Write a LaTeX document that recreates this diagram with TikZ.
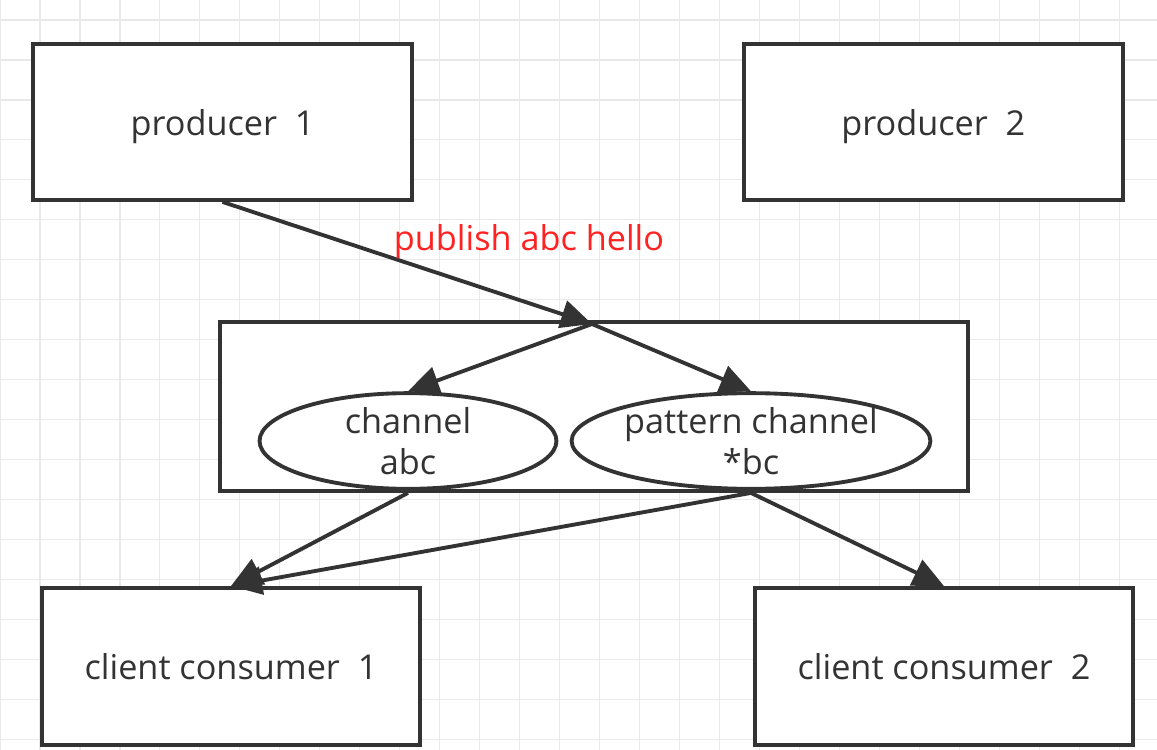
\documentclass[tikz,border=0pt]{standalone}
\usepackage{fontspec}
\setmainfont{Open Sans}
\usetikzlibrary{positioning, arrows.meta, shapes.geometric}
\definecolor{ink}{HTML}{333333}
\definecolor{gridgray}{HTML}{E9E9E9}
\definecolor{msgred}{HTML}{FF2222}

\begin{document}
\begin{tikzpicture}[x=0.02cm, y=-0.02cm, font=\fontsize{19.5}{23.5}\selectfont, text=ink,
  box/.style={draw=ink, line width=2.2pt, fill=white, minimum width=7.58cm, minimum height=3.12cm},
  chan/.style={draw=ink, ellipse, line width=2.2pt, fill=white, minimum height=1.64cm, inner sep=0pt, align=center},
  arrow/.style={draw=ink, line width=2.2pt, -{Triangle[length=0.62cm, width=0.56cm]}}]

  \useasboundingbox (0,0) rectangle (1157,750);
  \begin{scope}[yshift=-0.4cm]
    \draw[gridgray, line width=0.6pt, step=0.8cm] (0,-20) grid (1157,750);
  \end{scope}

  \node[box, text depth=0pt] (prod1) at (222.5,122) {producer\ \ 1};
  \node[box, text depth=0pt, right=6.56cm of prod1] (prod2) {producer\ \ 2};

  \node[box, minimum width=14.96cm, minimum height=3.38cm] (server) at (594,406.5) {};
  \coordinate (hub) at (592,324);
  \node[chan, minimum width=5.94cm] (chabc) at (408,441) {channel\\abc};
  \node[chan, minimum width=7.04cm] (chbc) at (751,441) {pattern channel\\*bc};

  \node[box, minimum width=7.56cm, minimum height=3.14cm] (cons1) at (231,666.5) {client consumer\ \ 1};
  \node[box, minimum width=7.56cm, minimum height=3.14cm] (cons2) at (944,666.5) {client consumer\ \ 2};

  \draw[arrow] (prod1.south) -- (hub);
  \node[text=msgred] (msg) at (529,242) {publish abc hello};
  \draw[arrow] (hub) -- (chabc.north);
  \draw[arrow] (hub) -- (chbc.north);

  \draw[arrow] (chabc.south |- server.south) -- (cons1.north);
  \draw[arrow] (chbc.south |- server.south) -- (cons1.north);
  \draw[arrow] (chbc.south |- server.south) -- (cons2.north);
\end{tikzpicture}
\end{document}
